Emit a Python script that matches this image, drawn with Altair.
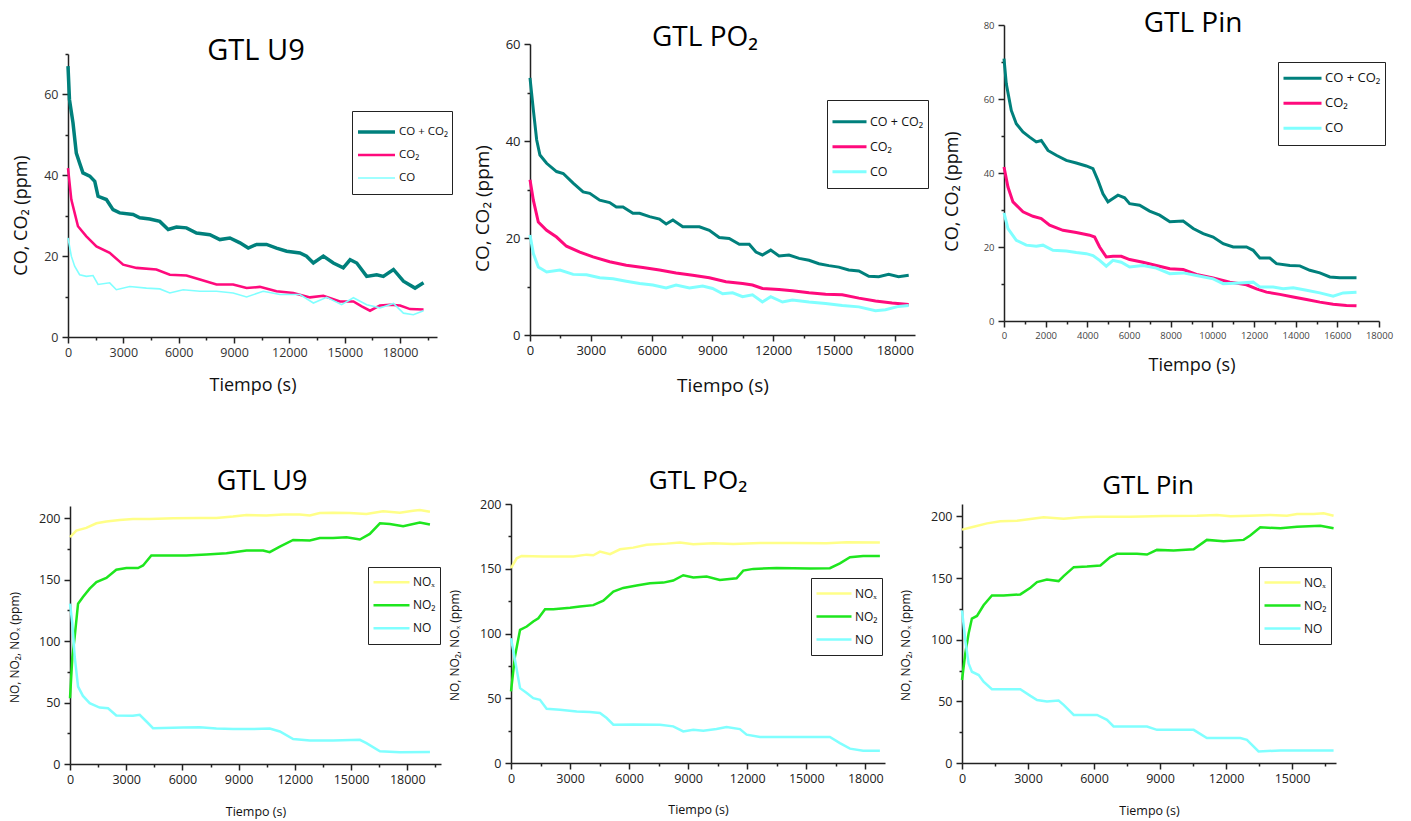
import altair as alt
import pandas as pd

FONT = "Open Sans"

# ---------------- GTL U9 : CO / CO2 ----------------
u9c_sum_t = [0, 80, 270, 450, 630, 810, 1180, 1450, 1630, 2080, 2440, 2800, 3530, 3890, 4430, 4975, 5430, 5880, 6420, 6965, 7690, 8230, 8775, 9320, 9770, 10220, 10760, 11300, 11850, 12570, 12930, 13300, 13840, 14380, 14920, 15290, 15650, 16190, 16730, 17090, 17640, 18180, 18810, 19270]
u9c_sum_v = [67, 58.7, 53, 45.5, 43, 40.6, 39.8, 38.5, 34.8, 34, 31.5, 30.7, 30.3, 29.5, 29.2, 28.6, 26.6, 27.2, 27, 25.7, 25.3, 24.1, 24.5, 23.3, 22, 22.9, 22.9, 22, 21.2, 20.8, 20, 18.3, 20, 18.3, 17.1, 19.1, 18.3, 15, 15.4, 15, 16.7, 13.8, 12.1, 13.4]
u9c_co2_t = [0, 180, 360, 540, 995, 1540, 2260, 2990, 3710, 4790, 5520, 6420, 7150, 8050, 8950, 9680, 10400, 11300, 12210, 13120, 13840, 14740, 15470, 15920, 16370, 16910, 17460, 18000, 18540, 19270]
u9c_co2_v = [41.8, 34, 30.7, 27.4, 24.9, 22.4, 20.8, 17.9, 17.1, 16.7, 15.4, 15.2, 14.2, 13, 13, 12.1, 12.4, 11.3, 10.9, 9.8, 10.2, 8.8, 8.8, 7.6, 6.5, 7.8, 8, 7.8, 6.9, 6.8]
u9c_co_t = [0, 180, 360, 630, 995, 1357, 1628, 2260, 2620, 3350, 4250, 4975, 5520, 6240, 7150, 8050, 8950, 9680, 10580, 11490, 12570, 13300, 14020, 14830, 15470, 16190, 16910, 17640, 18180, 18720, 19270]
u9c_co_v = [24.5, 20, 17.5, 15.4, 15, 15.2, 13, 13.4, 11.7, 12.5, 12.1, 11.9, 10.9, 11.7, 11.3, 11.3, 10.9, 9.9, 11.3, 10.5, 10.5, 8.4, 9.8, 8, 9.7, 8, 7.2, 8.3, 5.9, 5.5, 6.5]

# ---------------- GTL PO2 : CO / CO2 ----------------
po2c_sum_t = [0, 165, 330, 490, 820, 1310, 1640, 2130, 2620, 2950, 3440, 3930, 4260, 4590, 5080, 5410, 5900, 6390, 6720, 7050, 7540, 8360, 8850, 9340, 9830, 10330, 10820, 11150, 11470, 11880, 12290, 12780, 13280, 13770, 14260, 14750, 15240, 15730, 16230, 16720, 17210, 17700, 18190, 18690]
po2c_sum_v = [53, 46.4, 40.2, 37.1, 35.4, 33.7, 33.3, 31.3, 29.5, 29.2, 27.8, 27.3, 26.4, 26.4, 25.1, 25.1, 24.4, 23.9, 22.9, 23.7, 22.3, 22.3, 21.6, 20.1, 19.9, 18.7, 18.7, 17.1, 16.5, 17.5, 16.3, 16.5, 15.8, 15.4, 14.7, 14.3, 14, 13.4, 13.2, 12.1, 12, 12.5, 12, 12.3]
po2c_co2_t = [0, 165, 410, 820, 1310, 1800, 2460, 3110, 3930, 4750, 5570, 6390, 7210, 8030, 8850, 9670, 10490, 10980, 11470, 12290, 12950, 13770, 14590, 15410, 16230, 17050, 17870, 18690]
po2c_co2_v = [32, 27.8, 23.3, 21.6, 20.2, 18.3, 17.1, 16.1, 15.1, 14.4, 13.9, 13.4, 12.8, 12.3, 11.8, 11, 10.6, 10.3, 9.6, 9.4, 9.1, 8.7, 8.4, 8.3, 7.6, 7, 6.6, 6.3]
po2c_co_t = [0, 165, 410, 820, 1475, 2130, 2790, 3440, 4100, 4750, 5410, 6060, 6720, 7210, 7870, 8520, 9010, 9510, 10000, 10490, 10980, 11470, 11880, 12460, 12950, 13770, 14590, 15410, 16230, 17050, 17540, 18190, 18690]
po2c_co_v = [20.6, 16.8, 14, 13, 13.4, 12.5, 12.4, 11.8, 11.6, 11.1, 10.6, 10.3, 9.7, 10.3, 9.7, 10.1, 9.6, 8.5, 8.7, 7.9, 8.3, 6.8, 7.9, 6.8, 7.2, 6.8, 6.5, 6.1, 5.8, 5, 5.2, 5.9, 6.1]

# ---------------- GTL Pin : CO / CO2 ----------------
pinc_sum_t = [0, 110, 350, 590, 910, 1230, 1550, 1790, 2110, 2510, 2990, 3470, 3950, 4270, 4510, 4750, 4990, 5230, 5470, 5790, 6030, 6510, 6990, 7470, 7960, 8600, 9080, 9560, 10040, 10520, 11000, 11640, 11960, 12280, 12760, 13080, 13720, 14200, 14680, 15160, 15640, 16120, 16920]
pinc_sum_v = [70.9, 64.1, 56.9, 53.3, 51.1, 49.7, 48.4, 48.8, 46.1, 44.8, 43.4, 42.7, 41.9, 41.2, 38, 34.4, 32.2, 33.1, 34, 33.3, 31.7, 31.3, 29.7, 28.6, 26.8, 27, 25, 23.6, 22.7, 20.9, 20, 20, 19.1, 17, 17, 15.5, 15, 14.9, 13.7, 13, 11.9, 11.7, 11.7]
pinc_co2_t = [0, 190, 430, 910, 1390, 1790, 2190, 2830, 3470, 4110, 4350, 4590, 4910, 5230, 5630, 6030, 6670, 7310, 7960, 8600, 9240, 10040, 10840, 11640, 12120, 12600, 13240, 13880, 14520, 15160, 15800, 16440, 16920]
pinc_co2_v = [41.6, 36.2, 32.2, 29.5, 28.3, 27.7, 25.9, 24.5, 23.9, 23.2, 22.7, 20, 17.3, 17.5, 17.5, 16.6, 15.9, 15, 14.1, 13.9, 12.6, 11.6, 10.5, 9.8, 8.7, 7.8, 7.2, 6.5, 5.8, 5.1, 4.5, 4.2, 4.1]
pinc_co_t = [0, 190, 590, 1070, 1550, 1870, 2350, 2990, 3470, 3950, 4270, 4590, 4910, 5230, 5630, 6030, 6670, 7310, 7960, 8600, 9240, 10040, 10520, 11320, 11960, 12280, 12920, 13400, 13880, 14520, 15160, 15800, 16280, 16920]
pinc_co_v = [29.2, 25, 21.8, 20.5, 20.2, 20.5, 19.1, 18.9, 18.5, 18.2, 17.7, 16.4, 14.8, 16.4, 15.9, 14.6, 15, 14.3, 12.8, 13, 12.3, 11.4, 10.1, 10.3, 10.5, 9.2, 9.2, 8.7, 9, 8.3, 7.6, 6.7, 7.6, 7.8]

# ---------------- GTL U9 : NO / NO2 / NOx ----------------
u9n_nox_t = [0, 340, 870, 1410, 1940, 2650, 3360, 4250, 5500, 6920, 7810, 8700, 9420, 10480, 11370, 12260, 12800, 13330, 14040, 14930, 15820, 16710, 17600, 18310, 18670, 19210]
u9n_nox_v = [184.6, 190, 192.2, 195.9, 197.3, 198.6, 199.5, 199.5, 200, 200.3, 200.3, 201.4, 202.7, 202.2, 203, 203, 202.2, 204.3, 204.6, 204.3, 203.5, 205.7, 204.6, 206.2, 206.8, 205.4]
u9n_no2_t = [0, 125, 250, 430, 690, 1050, 1410, 1940, 2470, 3010, 3630, 3900, 4340, 5140, 6210, 7280, 8350, 9420, 10310, 10660, 11200, 11910, 12800, 13330, 14040, 14760, 15470, 16000, 16540, 17070, 17780, 18670, 19210]
u9n_no2_v = [53.5, 87, 103.5, 130.5, 136, 142.7, 148, 151.4, 158.1, 159.5, 159.5, 161.6, 169.7, 169.7, 169.7, 170.5, 171.6, 173.8, 173.8, 172.4, 177, 182.4, 181.9, 184, 184, 184.6, 182.7, 187.3, 195.9, 195.4, 193.5, 196.5, 194.9]
u9n_no_t = [0, 125, 250, 430, 690, 1050, 1580, 2030, 2470, 3360, 3720, 4080, 4430, 6030, 6920, 7810, 8700, 9770, 10660, 11200, 11910, 12800, 14040, 15470, 15820, 16540, 17600, 19210]
u9n_no_v = [130.5, 114.3, 87.3, 63, 55.4, 49.5, 45.9, 45.4, 39.5, 39.2, 40, 34.6, 29.2, 29.7, 30, 28.9, 28.4, 28.4, 28.9, 26.5, 20.3, 19.2, 19.2, 19.7, 17, 10.3, 9.5, 9.7]

# ---------------- GTL PO2 : NO / NO2 / NOx ----------------
po2n_nox_t = [0, 290, 540, 1640, 3170, 3840, 4180, 4520, 5030, 5540, 6210, 6890, 7910, 8580, 9260, 10280, 11290, 12650, 14340, 16030, 17050, 18740]
po2n_nox_v = [150.4, 158.1, 159.9, 159.4, 159.4, 160.9, 160.4, 163.2, 161.2, 165, 166.3, 168.6, 169.4, 170.2, 168.9, 169.7, 169.2, 169.9, 169.9, 169.7, 170.4, 170.2]
po2n_no2_t = [0, 200, 460, 800, 1130, 1390, 1730, 2150, 3000, 3500, 4180, 4690, 5200, 5700, 6380, 7060, 7740, 8240, 8750, 9260, 9940, 10610, 11460, 11800, 12310, 13490, 15190, 16200, 16710, 17220, 17890, 18740]
po2n_no2_v = [55.3, 82.3, 102.8, 105.4, 109.3, 111.8, 118.8, 118.8, 119.8, 120.8, 121.9, 125.4, 132.4, 135.2, 137, 138.8, 139.3, 140.9, 145, 143.2, 144, 141.4, 142.7, 148.6, 149.9, 150.6, 150.1, 150.4, 154.2, 158.9, 159.9, 159.9]
po2n_no_t = [0, 200, 460, 800, 1130, 1470, 1810, 2490, 3340, 4010, 4520, 4860, 5200, 6210, 7570, 8240, 8750, 9260, 9770, 10440, 10950, 11630, 11970, 12650, 14340, 16200, 16710, 17220, 17890, 18740]
po2n_no_v = [96.4, 79.7, 57.8, 54, 50.1, 48.8, 41.9, 41.1, 39.8, 39.3, 38.6, 34.7, 29.6, 29.8, 29.6, 28.3, 24.4, 25.7, 24.9, 26.2, 27.8, 26.2, 21.9, 20.1, 20.1, 20.1, 15.4, 11.1, 9.5, 9.5]

# ---------------- GTL Pin : NO / NO2 / NOx ----------------
pinn_nox_t = [0, 530, 1140, 1740, 2500, 3110, 3710, 4620, 5380, 6140, 7650, 9170, 10680, 11590, 12200, 13100, 14010, 14770, 15230, 15980, 16440, 16890]
pinn_nox_v = [189.2, 191.6, 194.3, 196, 196.5, 197.8, 199.2, 198.1, 199.2, 199.7, 199.7, 200.3, 200.5, 201.1, 200, 200.5, 201.1, 200.5, 201.9, 201.9, 202.4, 200.5]
pinn_no2_t = [0, 150, 300, 450, 680, 980, 1360, 1890, 2650, 3110, 3410, 3860, 4390, 4620, 5080, 5680, 6290, 6740, 7040, 7950, 8410, 8860, 9620, 10530, 11130, 11890, 12800, 13100, 13560, 14470, 15230, 16290, 16890]
pinn_no2_v = [67.3, 88.8, 105, 117.1, 119.2, 127.9, 135.9, 135.9, 136.7, 142.1, 146.7, 148.8, 147.5, 151.5, 158.8, 159.3, 160.1, 166.9, 169.6, 169.6, 169, 172.8, 172.3, 173.3, 180.9, 179.8, 180.9, 184.4, 191.1, 190.3, 191.6, 192.4, 190.3]
pinn_no_t = [0, 150, 300, 450, 760, 980, 1360, 2050, 2650, 3110, 3410, 3860, 4390, 4620, 5080, 6140, 6590, 6890, 8410, 8860, 10530, 11130, 12650, 12950, 13480, 14470, 16890]
pinn_no_v = [123.8, 99.6, 80.7, 74, 71.3, 65.9, 59.8, 59.8, 59.8, 54.4, 51.1, 49.8, 50.6, 47.1, 39, 39, 35, 29.6, 29.6, 26.9, 26.9, 20.2, 20.2, 18.8, 9.4, 10.2, 10.2]

CO_ORDER = ["CO + CO₂", "CO₂", "CO"]
CO_COLORS = ["#00807c", "#ff0a7c", "#80ffff"]
NO_ORDER = ["NOₓ", "NO₂", "NO"]
NO_COLORS = ["#ffff88", "#1ee61e", "#80ffff"]


def frame(pairs, names):
    rows = []
    for name, (ts, vs) in zip(names, pairs):
        for t, v in zip(ts, vs):
            rows.append({"t": t, "v": v, "s": name})
    return pd.DataFrame(rows)


def panel(df, order, colors, widths, cell, plot, xmax, xstep, xmajor, xlast, ymax, ystep, ymajor, ylast,
          title, tsize, tbase, tcenter, ytitle, ytx, yty, ytsize, xty, xtsize, lsize, lcolor,
          legx, legy, legfont, legsym, legrow, legtitle):
    CW, CH = cell          # cell size (whole panel incl. axes and title)
    ox, oy, W, H = plot    # plot rectangle inside the cell
    xvals = list(range(0, xlast + 1, xstep))
    yvals = list(range(0, ylast + 1, ystep))
    common = dict(grid=False, domainColor="#222222", domainWidth=1.5, tickColor="#222222",
                  tickWidth=1.5, labelFont=FONT, labelFontSize=lsize, labelColor=lcolor,
                  labelOverlap=False, labelFlush=False, titleFont=FONT, titleFontWeight="normal",
                  titleColor="#111111", titleAlign="center", titleBaseline="middle")
    xaxis = alt.Axis(values=xvals, format="d", labelPadding=3, offset=-(CH - oy - H),
                     labelExpr=f"datum.value % {xmajor} === 0 ? datum.label : ''",
                     tickSize={"condition": {"test": f"datum.value % {xmajor} === 0", "value": 6}, "value": 3},
                     title="Tiempo (s)", titleX=ox + W / 2, titleY=xty, titleFontSize=xtsize, **common)
    yaxis = alt.Axis(values=yvals, format="d", labelPadding=4, offset=-ox,
                     labelExpr=f"datum.value % {ymajor} === 0 ? datum.label : ''",
                     tickSize={"condition": {"test": f"datum.value % {ymajor} === 0", "value": 6}, "value": 3},
                     title=ytitle, titleX=ytx, titleY=oy + yty, titleFontSize=ytsize, **common)
    leg_kwargs = dict(orient="none", legendX=ox + legx, legendY=oy + legy, symbolType="stroke",
                      symbolSize=legsym * legsym, symbolStrokeWidth=3, labelFont=FONT,
                      labelFontSize=legfont, labelColor="#111111", labelOffset=2,
                      strokeColor="#222222", fillColor="white", padding=4,
                      clipHeight=legrow, rowPadding=0, direction="vertical")
    if legtitle > 0:
        leg_kwargs.update(title=" ", titleFontSize=legtitle, titlePadding=0)
    else:
        leg_kwargs.update(title=None)
    lines = alt.Chart(df).mark_line().encode(
        x=alt.X("t:Q", scale=alt.Scale(domain=[0, xmax], range=[ox, ox + W], nice=False, zero=False),
                axis=xaxis),
        y=alt.Y("v:Q", scale=alt.Scale(domain=[0, ymax], range=[oy + H, oy], nice=False, zero=False),
                axis=yaxis),
        color=alt.Color("s:N", scale=alt.Scale(domain=order, range=colors),
                        legend=alt.Legend(**leg_kwargs)),
        strokeWidth=alt.StrokeWidth("s:N", scale=alt.Scale(domain=order, range=widths), legend=None),
        detail="s:N",
    )
    return lines.properties(
        width=CW, height=CH,
        title=alt.TitleParams(title, font=FONT, fontSize=tsize, fontWeight="normal", color="black",
                              anchor="middle", frame="group", baseline="alphabetic",
                              offset=-(tbase + 26), dx=tcenter - CW / 2),
    )


p1 = panel(frame([(u9c_sum_t, u9c_sum_v), (u9c_co2_t, u9c_co2_v), (u9c_co_t, u9c_co_v)], CO_ORDER),
           CO_ORDER, CO_COLORS, [3.5, 1.6, 1.6], (455, 410), (68, 54, 369, 283),
           20000, 1500, 3000, 19500, 70, 10, 20, 70,
           "GTL U9", 29, 63, 256, "CO, CO₂ (ppm)", -47, 161, 18, 48, 18, 12.5, "#333333",
           284, 57, 11.5, 37, 23, 5.5)
p2 = panel(frame([(po2c_sum_t, po2c_sum_v), (po2c_co2_t, po2c_co2_v), (po2c_co_t, po2c_co_v)], CO_ORDER),
           CO_ORDER, CO_COLORS, [3, 3, 3], (485, 410), (75, 44, 385, 291),
           19000, 1500, 3000, 18000, 60, 10, 20, 60,
           "GTL PO₂", 28, 48, 250, "CO, CO₂ (ppm)", -48, 164, 19, 50, 19, 13, "#222222",
           297, 56, 12.5, 34, 24.5, 5.5)
p3 = panel(frame([(pinc_sum_t, pinc_sum_v), (pinc_co2_t, pinc_co2_v), (pinc_co_t, pinc_co_v)], CO_ORDER),
           CO_ORDER, CO_COLORS, [3, 3, 3], (471, 410), (64, 25, 375, 296),
           18000, 1000, 2000, 18000, 80, 10, 20, 80,
           "GTL Pin", 28, 34, 253, "CO, CO₂ (ppm)", -52, 166, 18, 44, 18, 9.5, "#444444",
           274, 37, 13, 38, 24.5, 0)
p4 = panel(frame([(u9n_nox_t, u9n_nox_v), (u9n_no2_t, u9n_no2_v), (u9n_no_t, u9n_no_v)], NO_ORDER),
           NO_ORDER, NO_COLORS, [2.5, 2.5, 2.5], (446, 411), (70, 96, 371, 258),
           19800, 1500, 3000, 19500, 210, 25, 50, 200,
           "GTL U9", 27, 81, 262, "NO, NO₂, NOₓ (ppm)", -56, 141, 12, 47, 12.5, 12.5, "#222222",
           298, 61, 12, 36, 22.5, 0)
p5 = panel(frame([(po2n_nox_t, po2n_nox_v), (po2n_no2_t, po2n_no2_v), (po2n_no_t, po2n_no_v)], NO_ORDER),
           NO_ORDER, NO_COLORS, [2.5, 2.5, 2.5], (447, 411), (65, 94, 374, 259),
           19000, 1500, 3000, 18000, 200, 25, 50, 200,
           "GTL PO₂", 26, 79, 252, "NO, NO₂, NOₓ (ppm)", -57, 141, 12, 46, 12.5, 12.5, "#222222",
           300, 74, 12, 35, 23, 0)
p6 = panel(frame([(pinn_nox_t, pinn_nox_v), (pinn_no2_t, pinn_no2_v), (pinn_no_t, pinn_no_v)], NO_ORDER),
           NO_ORDER, NO_COLORS, [2.5, 2.5, 2.5], (518, 411), (69, 94, 374, 259),
           17000, 1500, 3000, 16500, 210, 25, 50, 200,
           "GTL Pin", 26, 84, 255, "NO, NO₂, NOₓ (ppm)", -57, 141, 12, 47, 12.5, 12.5, "#222222",
           297, 63, 12, 36, 23, 0)

row1 = alt.hconcat(p1, p2, p3, spacing=0).resolve_scale(color="independent", strokeWidth="independent")
row2 = alt.hconcat(p4, p5, p6, spacing=0).resolve_scale(color="independent", strokeWidth="independent")
chart = alt.vconcat(row1, row2, spacing=0).resolve_scale(
    color="independent", strokeWidth="independent"
).properties(padding=0, background="white").configure_view(strokeOpacity=0)

chart.save("out.html", embed_options={"renderer": "svg", "actions": False})
